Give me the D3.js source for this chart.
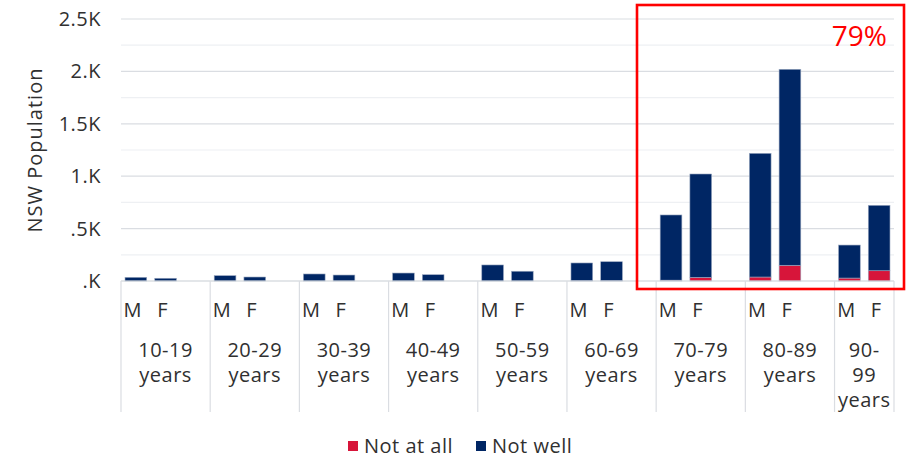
<!DOCTYPE html>
<html>
<head>
<meta charset="utf-8">
<script src="https://cdn.jsdelivr.net/npm/d3@7"></script>
<style>
  html, body { margin: 0; padding: 0; background: #fff; }
  svg { display: block; font-family: "Open Sans", "Noto Sans", sans-serif; }
</style>
</head>
<body>
<svg id="chart" width="912" height="458"></svg>
<script>
const groups = ["10-19 years", "20-29 years", "30-39 years", "40-49 years", "50-59 years",
                "60-69 years", "70-79 years", "80-89 years", "90-99 years"];
const genders = ["M", "F"];
// Stacked values: "Not at all" (bottom) and "Not well" (top), M then F per group
const notAtAllM = [0, 0, 0, 0, 0, 2, 8, 38, 28];
const notAtAllF = [0, 0, 0, 0, 0, 2, 35, 150, 98];
const notWellM  = [35, 51, 67, 76, 153, 170, 622, 1180, 315];
const notWellF  = [26, 38, 57, 60, 93, 182, 986, 1870, 624];
const seriesNames = ["Not at all", "Not well"];
const seriesColors = ["#d7153a", "#002664"];
const yTicks = [0, 500, 1000, 1500, 2000, 2500];
const yTickLabels = [".K", ".5K", "1.K", "1.5K", "2.K", "2.5K"];
const yMinor = [250, 750, 1250, 1750, 2250];
const highlightText = "79%";

const svg = d3.select("#chart");
const mLeft = 121, mRight = 894, mTop = 19, mBottom = 281;
const fs = "20px", ls = "0.5px", txt = "#303030";

// slots: M, F and an empty spacer per group (no spacer after the last group)
const slots = [];
groups.forEach((g, i) => {
  slots.push(g + "|M"); slots.push(g + "|F");
  if (i < groups.length - 1) slots.push(g + "|gap");
});
const x = d3.scaleBand().domain(slots).range([mLeft, mRight]).paddingInner(0.27).paddingOuter(0.135);
const y = d3.scaleLinear().domain([0, 2500]).range([mBottom, mTop]);
const step = x.step();
const slotStart = s => x(s) - (step - x.bandwidth()) / 2;

// gridlines
svg.append("g").selectAll("line").data(yMinor).join("line")
  .attr("x1", mLeft).attr("x2", mRight)
  .attr("y1", d => y(d)).attr("y2", d => y(d))
  .attr("stroke", "#eef0f3").attr("stroke-width", 1.2);
svg.append("g").selectAll("line").data(yTicks).join("line")
  .attr("x1", mLeft).attr("x2", mRight)
  .attr("y1", d => y(d)).attr("y2", d => y(d))
  .attr("stroke", "#dadde2").attr("stroke-width", 1.2);

// y axis labels
const yAxis = d3.axisLeft(y).tickValues(yTicks).tickSize(0).tickPadding(0)
  .tickFormat((d, i) => yTickLabels[i]);
const gy = svg.append("g").attr("transform", `translate(101,0)`).call(yAxis);
gy.select(".domain").remove();
gy.selectAll("text").attr("fill", txt).style("font-size", fs).style("letter-spacing", ls)
  .style("font-family", "'Open Sans', sans-serif");

svg.append("text")
  .attr("transform", "translate(42,150) rotate(-90)")
  .attr("text-anchor", "middle")
  .attr("fill", txt).style("font-size", fs).style("letter-spacing", "1px")
  .text("NSW Population");

// bars
const barData = [];
groups.forEach((g, i) => {
  barData.push({slot: g + "|M", a: notAtAllM[i], b: notWellM[i]});
  barData.push({slot: g + "|F", a: notAtAllF[i], b: notWellF[i]});
});
const stack = svg.append("g");
barData.forEach(d => {
  const segs = [[0, d.a, seriesColors[0]], [d.a, d.a + d.b, seriesColors[1]]];
  segs.forEach(([y0, y1, c]) => {
    if (y1 - y0 <= 0) return;
    stack.append("rect")
      .attr("x", x(d.slot)).attr("width", x.bandwidth())
      .attr("y", y(y1)).attr("height", y(y0) - y(y1))
      .attr("fill", c).attr("stroke", "#9aa8c0").attr("stroke-width", 0.6);
  });
});

// category axis: baseline and separators
svg.append("line").attr("x1", mLeft).attr("x2", mRight)
  .attr("y1", mBottom).attr("y2", mBottom).attr("stroke", "#dadde2").attr("stroke-width", 1.2);
const sepX = groups.map(g => slotStart(g + "|M")).concat([mRight]);
svg.append("g").selectAll("line").data(sepX).join("line")
  .attr("x1", d => d).attr("x2", d => d).attr("y1", mBottom).attr("y2", 412)
  .attr("stroke", "#dadde2").attr("stroke-width", 1.2);

// M/F labels
const lab = svg.append("g").attr("fill", txt).style("font-size", fs).style("letter-spacing", ls);
groups.forEach(g => {
  genders.forEach(s => {
    lab.append("text").attr("x", x(g + "|" + s) + x.bandwidth() / 2 - 3).attr("y", 317)
      .attr("text-anchor", "middle").text(s);
  });
});
// group labels (wrapped)
const groupLines = groups.map((g, i) => i === groups.length - 1 ? ["90-", "99", "years"] : g.split(" "));
groups.forEach((g, i) => {
  const s0 = slotStart(g + "|M");
  const s1 = i < groups.length - 1 ? s0 + 3 * step : mRight;
  const cx = (s0 + s1) / 2;
  groupLines[i].forEach((t, j) => {
    lab.append("text").attr("x", cx).attr("y", 357 + j * 25)
      .attr("text-anchor", "middle").text(t);
  });
});

// highlight box
svg.append("rect").attr("x", 637).attr("y", 5).attr("width", 267).attr("height", 284)
  .attr("fill", "none").attr("stroke", "#ff0000").attr("stroke-width", 2.6);
svg.append("text").attr("x", 887).attr("y", 46).attr("text-anchor", "end")
  .attr("fill", "#ff0000").style("font-size", "28px").text(highlightText);

// legend
const lg = svg.append("g").style("font-size", fs).style("letter-spacing", ls);
const legendItems = [{name: seriesNames[0], c: seriesColors[0], x: 348}, {name: seriesNames[1], c: seriesColors[1], x: 476}];
legendItems.forEach(it => {
  lg.append("rect").attr("x", it.x).attr("y", 441).attr("width", 10).attr("height", 10).attr("fill", it.c);
  lg.append("text").attr("x", it.x + 16).attr("y", 453).attr("fill", txt).text(it.name);
});
</script>
</body>
</html>
